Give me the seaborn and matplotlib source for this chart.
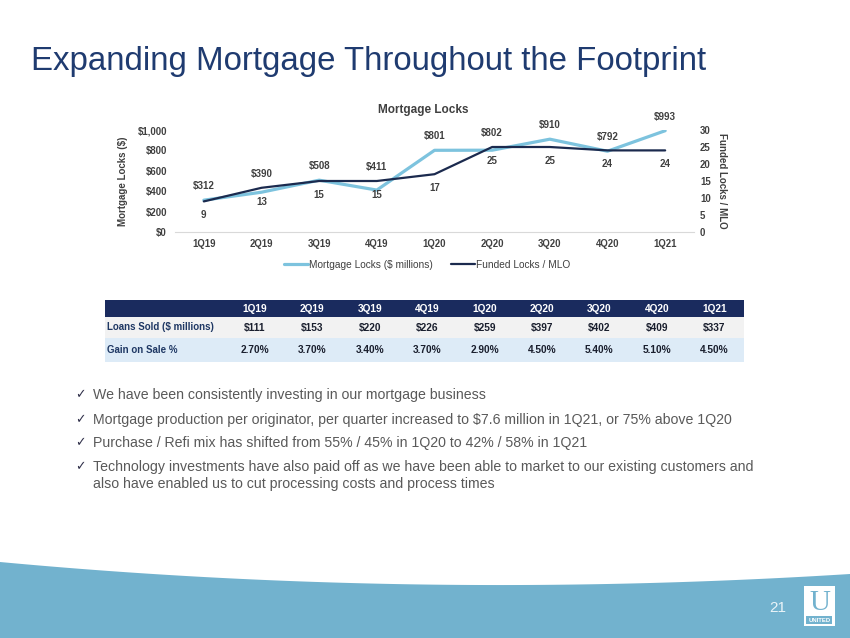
import numpy as np
import pandas as pd
import matplotlib
matplotlib.use("Agg")
import matplotlib.pyplot as plt
from matplotlib.patches import Rectangle, Polygon
from matplotlib.lines import Line2D
from matplotlib.ticker import FuncFormatter
import seaborn as sns

# ---------------- data ----------------
quarters = ["1Q19", "2Q19", "3Q19", "4Q19", "1Q20", "2Q20", "3Q20", "4Q20", "1Q21"]
mortgage_locks = [312, 390, 508, 411, 801, 802, 910, 792, 993]
funded_locks_mlo = [9, 13, 15, 15, 17, 25, 25, 24, 24]
loans_sold = ["$111", "$153", "$220", "$226", "$259", "$397", "$402", "$409", "$337"]
gain_on_sale = ["2.70%", "3.70%", "3.40%", "3.70%", "2.90%", "4.50%", "5.40%", "5.10%", "4.50%"]
left_ticks = [0, 200, 400, 600, 800, 1000]
right_ticks = [0, 5, 10, 15, 20, 25, 30]
bullets = [
    "We have been consistently investing in our mortgage business",
    "Mortgage production per originator, per quarter increased to $7.6 million in 1Q21, or 75% above 1Q20",
    "Purchase / Refi mix has shifted from 55% / 45% in 1Q20 to 42% / 58% in 1Q21",
    "Technology investments have also paid off as we have been able to market to our existing customers and\nalso have enabled us to cut processing costs and process times",
]

# ---------------- style ----------------
sns.set_theme(style="white")
plt.rcParams["font.family"] = ["Liberation Sans", "DejaVu Sans"]

NAVY_TITLE = "#1F3B70"
LIGHT = "#7DC3DE"
DARK = "#1B2A4E"
TXT = "#404040"
WAVE = "#72B2CE"
HEAD = "#1A2B5E"

W, H = 850, 638
fig = plt.figure(figsize=(W / 100, H / 100), dpi=100)
fig.patch.set_facecolor("white")

# overlay axes in pixel coordinates
bg = fig.add_axes([0, 0, 1, 1])
bg.set_xlim(0, W)
bg.set_ylim(H, 0)
bg.axis("off")

# title
bg.text(31, 70, "Expanding Mortgage Throughout the Footprint", fontsize=23.8,
        color=NAVY_TITLE, ha="left", va="baseline")

# bottom wave
t = np.linspace(0, 1, 100)
p0, p1, p2 = np.array([0, 562]), np.array([420, 601]), np.array([850, 574])
curve = ((1 - t) ** 2)[:, None] * p0 + (2 * (1 - t) * t)[:, None] * p1 + (t ** 2)[:, None] * p2
poly = np.vstack([curve, [[850, 638], [0, 638]]])
bg.add_patch(Polygon(poly, closed=True, facecolor=WAVE, edgecolor="none"))

# page number + logo
bg.text(778, 608, "21", fontsize=11, color="#EAF4F8", ha="center", va="center")
bg.add_patch(Rectangle((804, 586), 31, 40, facecolor="white", edgecolor="none"))
bg.text(819.5, 603, "U", fontsize=21, color=WAVE, ha="center", va="center",
        family=["Liberation Serif", "DejaVu Serif"])
bg.add_patch(Rectangle((806.5, 616), 26, 8, facecolor=WAVE, edgecolor="none"))
bg.text(819.5, 620.3, "UNITED", fontsize=4.3, color="white", ha="center", va="center",
        fontweight="bold")

# ---------------- chart ----------------
ax_l, ax_r, ax_b, ax_t = 175, 694, 232, 130
ax = fig.add_axes([ax_l / W, 1 - ax_b / H, (ax_r - ax_l) / W, (ax_b - ax_t) / H])
ax.set_facecolor("none")
ax2 = ax.twinx()

n = len(quarters)
df = pd.DataFrame({"pos": np.arange(n), "quarter": quarters,
                   "locks": mortgage_locks, "funded": funded_locks_mlo})

sns.lineplot(data=df, x="pos", y="locks", ax=ax, color=LIGHT, linewidth=2.3,
             sort=False, legend=False)
sns.lineplot(data=df, x="pos", y="funded", ax=ax2, color=DARK, linewidth=1.6,
             sort=False, legend=False)

ax.set_xlim(-0.5, n - 0.5)
ax.set_ylim(0, 1000)
ax2.set_ylim(0, 30)
ax.set_xticks(np.arange(n))
ax.set_xticklabels(quarters)
ax.set_yticks(left_ticks)
ax.yaxis.set_major_formatter(FuncFormatter(lambda v, p: f"${v:,.0f}"))
ax2.set_yticks(right_ticks)

for a in (ax, ax2):
    for s in a.spines.values():
        s.set_visible(False)
    a.grid(False)
ax.spines["bottom"].set_visible(True)
ax.spines["bottom"].set_color("#D9D9D9")
ax.spines["bottom"].set_linewidth(0.8)

ax.tick_params(axis="x", length=0, pad=5, labelsize=6.9, labelcolor=TXT)
ax.tick_params(axis="y", length=0, pad=5.8, labelsize=6.9, labelcolor=TXT)
ax2.tick_params(axis="y", length=0, pad=4.3, labelsize=6.9, labelcolor=TXT)
for lab in ax.get_xticklabels() + ax.get_yticklabels() + ax2.get_yticklabels():
    lab.set_fontweight("bold")

ax.set_xlabel("")
ax.set_ylabel("Mortgage Locks ($)", fontsize=7, fontweight="bold", color=TXT)
ax.yaxis.set_label_coords((128 - ax_l) / (ax_r - ax_l), 0.5)
ax2.set_ylabel("Funded Locks / MLO", fontsize=7, fontweight="bold", color=TXT,
               rotation=270, va="center")
ax2.yaxis.set_label_coords((722 - ax_l) / (ax_r - ax_l), 0.5)

# data labels
for i in range(n):
    top = max(mortgage_locks[i], funded_locks_mlo[i] * 1000 / 30)
    ax.annotate(f"${mortgage_locks[i]:,}", xy=(i, top), xytext=(0, 10),
                textcoords="offset points", ha="center", va="center",
                fontsize=7, fontweight="bold", color=TXT)
    ax2.annotate(f"{funded_locks_mlo[i]}", xy=(i, funded_locks_mlo[i]), xytext=(0, -10),
                 textcoords="offset points", ha="center", va="center",
                 fontsize=7, fontweight="bold", color=TXT)

fig.text(423 / W, 1 - 110 / H, "Mortgage Locks", fontsize=8.5, fontweight="bold",
         color=TXT, ha="center", va="center")

handles = [Line2D([], [], color=LIGHT, linewidth=2.3),
           Line2D([], [], color=DARK, linewidth=1.6)]
fig.legend(handles, ["Mortgage Locks ($ millions)", "Funded Locks / MLO"],
           loc="center", bbox_to_anchor=(427 / W, 1 - 265 / H), ncol=2, frameon=False,
           fontsize=7.3, handlelength=2.4, handletextpad=0.1, columnspacing=1.8,
           labelcolor=TXT)

# ---------------- table ----------------
tx0, tx1 = 105, 744
rows_y = [(300, 317), (317, 338), (338, 362)]
col_x = [255 + i * 57.4 for i in range(n)]
bg.add_patch(Rectangle((tx0, rows_y[0][0]), tx1 - tx0, rows_y[0][1] - rows_y[0][0],
                       facecolor=HEAD, edgecolor="none"))
bg.add_patch(Rectangle((tx0, rows_y[1][0]), tx1 - tx0, rows_y[1][1] - rows_y[1][0],
                       facecolor="#F2F2F2", edgecolor="none"))
bg.add_patch(Rectangle((tx0, rows_y[2][0]), tx1 - tx0, rows_y[2][1] - rows_y[2][0],
                       facecolor="#DDEBF7", edgecolor="none"))
row_labels = ["Loans Sold ($ millions)", "Gain on Sale %"]
row_vals = [loans_sold, gain_on_sale]
for j, q in enumerate(quarters):
    bg.text(col_x[j], sum(rows_y[0]) / 2, q, fontsize=7.3, fontweight="bold",
            color="white", ha="center", va="center")
for r in range(2):
    yc = sum(rows_y[r + 1]) / 2
    bg.text(107, yc, row_labels[r], fontsize=7, fontweight="bold", color="#1F3864",
            ha="left", va="center")
    for j, v in enumerate(row_vals[r]):
        bg.text(col_x[j], yc, v, fontsize=7.3, fontweight="bold", color="#1A1F2E",
                ha="center", va="center")

# ---------------- bullets ----------------
bullet_y = [395, 420, 443, 467]
for y, txt in zip(bullet_y, bullets):
    bg.text(80, y, "\u2713", fontsize=9, color="#30304a", ha="center", va="center",
            family=["DejaVu Sans"])
    for k, line in enumerate(txt.split("\n")):
        bg.text(93, y + 17 * k, line, fontsize=10.2, color="#595959", ha="left",
                va="center")

fig.savefig("out.png", dpi=100, facecolor="white")
